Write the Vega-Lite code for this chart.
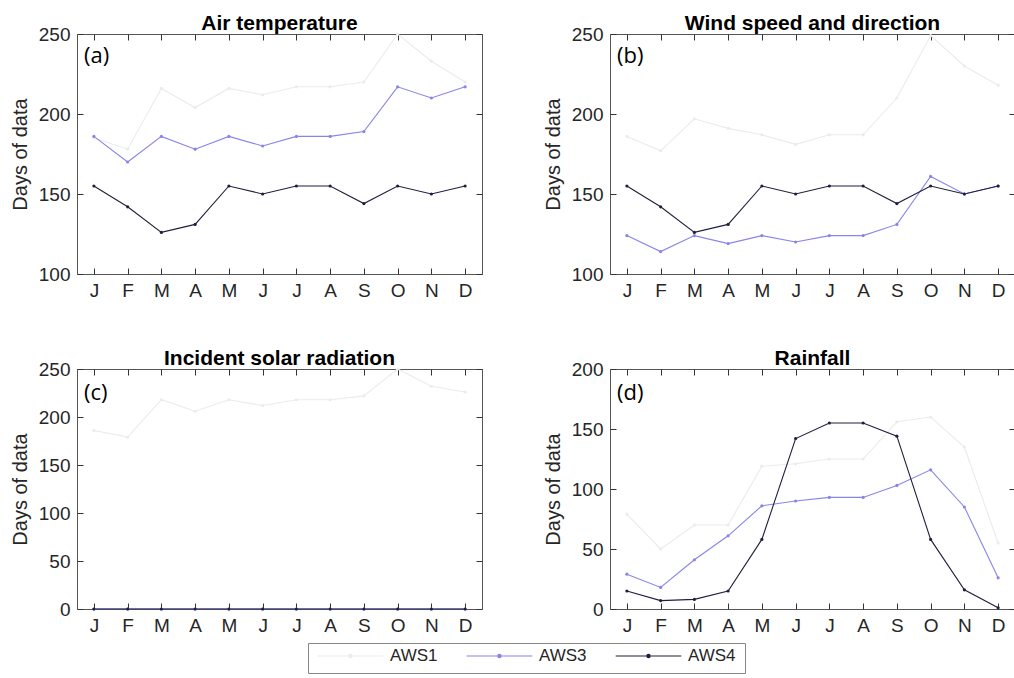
{
  "$schema": "https://vega.github.io/schema/vega-lite/v6.json",
  "padding": {"left": 9, "top": 12, "right": 0, "bottom": 0},
  "background": "white",
  "data": {"values": [
    {"panel":"a","series":"AWS1","month":1,"days":185},{"panel":"a","series":"AWS1","month":2,"days":178},{"panel":"a","series":"AWS1","month":3,"days":216},{"panel":"a","series":"AWS1","month":4,"days":204},{"panel":"a","series":"AWS1","month":5,"days":216},{"panel":"a","series":"AWS1","month":6,"days":212},{"panel":"a","series":"AWS1","month":7,"days":217},{"panel":"a","series":"AWS1","month":8,"days":217},{"panel":"a","series":"AWS1","month":9,"days":220},{"panel":"a","series":"AWS1","month":10,"days":250},{"panel":"a","series":"AWS1","month":11,"days":233},{"panel":"a","series":"AWS1","month":12,"days":220},
    {"panel":"a","series":"AWS3","month":1,"days":186},{"panel":"a","series":"AWS3","month":2,"days":170},{"panel":"a","series":"AWS3","month":3,"days":186},{"panel":"a","series":"AWS3","month":4,"days":178},{"panel":"a","series":"AWS3","month":5,"days":186},{"panel":"a","series":"AWS3","month":6,"days":180},{"panel":"a","series":"AWS3","month":7,"days":186},{"panel":"a","series":"AWS3","month":8,"days":186},{"panel":"a","series":"AWS3","month":9,"days":189},{"panel":"a","series":"AWS3","month":10,"days":217},{"panel":"a","series":"AWS3","month":11,"days":210},{"panel":"a","series":"AWS3","month":12,"days":217},
    {"panel":"a","series":"AWS4","month":1,"days":155},{"panel":"a","series":"AWS4","month":2,"days":142},{"panel":"a","series":"AWS4","month":3,"days":126},{"panel":"a","series":"AWS4","month":4,"days":131},{"panel":"a","series":"AWS4","month":5,"days":155},{"panel":"a","series":"AWS4","month":6,"days":150},{"panel":"a","series":"AWS4","month":7,"days":155},{"panel":"a","series":"AWS4","month":8,"days":155},{"panel":"a","series":"AWS4","month":9,"days":144},{"panel":"a","series":"AWS4","month":10,"days":155},{"panel":"a","series":"AWS4","month":11,"days":150},{"panel":"a","series":"AWS4","month":12,"days":155},
    {"panel":"b","series":"AWS1","month":1,"days":186},{"panel":"b","series":"AWS1","month":2,"days":177},{"panel":"b","series":"AWS1","month":3,"days":197},{"panel":"b","series":"AWS1","month":4,"days":191},{"panel":"b","series":"AWS1","month":5,"days":187},{"panel":"b","series":"AWS1","month":6,"days":181},{"panel":"b","series":"AWS1","month":7,"days":187},{"panel":"b","series":"AWS1","month":8,"days":187},{"panel":"b","series":"AWS1","month":9,"days":210},{"panel":"b","series":"AWS1","month":10,"days":249},{"panel":"b","series":"AWS1","month":11,"days":230},{"panel":"b","series":"AWS1","month":12,"days":218},
    {"panel":"b","series":"AWS3","month":1,"days":124},{"panel":"b","series":"AWS3","month":2,"days":114},{"panel":"b","series":"AWS3","month":3,"days":124},{"panel":"b","series":"AWS3","month":4,"days":119},{"panel":"b","series":"AWS3","month":5,"days":124},{"panel":"b","series":"AWS3","month":6,"days":120},{"panel":"b","series":"AWS3","month":7,"days":124},{"panel":"b","series":"AWS3","month":8,"days":124},{"panel":"b","series":"AWS3","month":9,"days":131},{"panel":"b","series":"AWS3","month":10,"days":161},{"panel":"b","series":"AWS3","month":11,"days":150},{"panel":"b","series":"AWS3","month":12,"days":155},
    {"panel":"b","series":"AWS4","month":1,"days":155},{"panel":"b","series":"AWS4","month":2,"days":142},{"panel":"b","series":"AWS4","month":3,"days":126},{"panel":"b","series":"AWS4","month":4,"days":131},{"panel":"b","series":"AWS4","month":5,"days":155},{"panel":"b","series":"AWS4","month":6,"days":150},{"panel":"b","series":"AWS4","month":7,"days":155},{"panel":"b","series":"AWS4","month":8,"days":155},{"panel":"b","series":"AWS4","month":9,"days":144},{"panel":"b","series":"AWS4","month":10,"days":155},{"panel":"b","series":"AWS4","month":11,"days":150},{"panel":"b","series":"AWS4","month":12,"days":155},
    {"panel":"c","series":"AWS1","month":1,"days":186},{"panel":"c","series":"AWS1","month":2,"days":179},{"panel":"c","series":"AWS1","month":3,"days":218},{"panel":"c","series":"AWS1","month":4,"days":206},{"panel":"c","series":"AWS1","month":5,"days":218},{"panel":"c","series":"AWS1","month":6,"days":212},{"panel":"c","series":"AWS1","month":7,"days":218},{"panel":"c","series":"AWS1","month":8,"days":218},{"panel":"c","series":"AWS1","month":9,"days":222},{"panel":"c","series":"AWS1","month":10,"days":250},{"panel":"c","series":"AWS1","month":11,"days":232},{"panel":"c","series":"AWS1","month":12,"days":226},
    {"panel":"c","series":"AWS3","month":1,"days":0},{"panel":"c","series":"AWS3","month":2,"days":0},{"panel":"c","series":"AWS3","month":3,"days":0},{"panel":"c","series":"AWS3","month":4,"days":0},{"panel":"c","series":"AWS3","month":5,"days":0},{"panel":"c","series":"AWS3","month":6,"days":0},{"panel":"c","series":"AWS3","month":7,"days":0},{"panel":"c","series":"AWS3","month":8,"days":0},{"panel":"c","series":"AWS3","month":9,"days":0},{"panel":"c","series":"AWS3","month":10,"days":0},{"panel":"c","series":"AWS3","month":11,"days":0},{"panel":"c","series":"AWS3","month":12,"days":0},
    {"panel":"c","series":"AWS4","month":1,"days":0},{"panel":"c","series":"AWS4","month":2,"days":0},{"panel":"c","series":"AWS4","month":3,"days":0},{"panel":"c","series":"AWS4","month":4,"days":0},{"panel":"c","series":"AWS4","month":5,"days":0},{"panel":"c","series":"AWS4","month":6,"days":0},{"panel":"c","series":"AWS4","month":7,"days":0},{"panel":"c","series":"AWS4","month":8,"days":0},{"panel":"c","series":"AWS4","month":9,"days":0},{"panel":"c","series":"AWS4","month":10,"days":0},{"panel":"c","series":"AWS4","month":11,"days":0},{"panel":"c","series":"AWS4","month":12,"days":0},
    {"panel":"d","series":"AWS1","month":1,"days":79},{"panel":"d","series":"AWS1","month":2,"days":50},{"panel":"d","series":"AWS1","month":3,"days":70},{"panel":"d","series":"AWS1","month":4,"days":70},{"panel":"d","series":"AWS1","month":5,"days":119},{"panel":"d","series":"AWS1","month":6,"days":121},{"panel":"d","series":"AWS1","month":7,"days":125},{"panel":"d","series":"AWS1","month":8,"days":125},{"panel":"d","series":"AWS1","month":9,"days":156},{"panel":"d","series":"AWS1","month":10,"days":160},{"panel":"d","series":"AWS1","month":11,"days":135},{"panel":"d","series":"AWS1","month":12,"days":55},
    {"panel":"d","series":"AWS3","month":1,"days":29},{"panel":"d","series":"AWS3","month":2,"days":18},{"panel":"d","series":"AWS3","month":3,"days":41},{"panel":"d","series":"AWS3","month":4,"days":61},{"panel":"d","series":"AWS3","month":5,"days":86},{"panel":"d","series":"AWS3","month":6,"days":90},{"panel":"d","series":"AWS3","month":7,"days":93},{"panel":"d","series":"AWS3","month":8,"days":93},{"panel":"d","series":"AWS3","month":9,"days":103},{"panel":"d","series":"AWS3","month":10,"days":116},{"panel":"d","series":"AWS3","month":11,"days":85},{"panel":"d","series":"AWS3","month":12,"days":26},
    {"panel":"d","series":"AWS4","month":1,"days":15},{"panel":"d","series":"AWS4","month":2,"days":7},{"panel":"d","series":"AWS4","month":3,"days":8},{"panel":"d","series":"AWS4","month":4,"days":15},{"panel":"d","series":"AWS4","month":5,"days":58},{"panel":"d","series":"AWS4","month":6,"days":142},{"panel":"d","series":"AWS4","month":7,"days":155},{"panel":"d","series":"AWS4","month":8,"days":155},{"panel":"d","series":"AWS4","month":9,"days":144},{"panel":"d","series":"AWS4","month":10,"days":58},{"panel":"d","series":"AWS4","month":11,"days":16},{"panel":"d","series":"AWS4","month":12,"days":1}
  ]},
  "columns": 2,
  "spacing": {"row": 46, "column": 59},
  "concat": [
    {
      "width": 405, "height": 240,
      "title": "Air temperature",
      "layer": [
        {"transform": [{"filter": "datum.panel === 'a'"}],
         "mark": {"type": "line", "strokeWidth": 1.1, "point": {"filled": true, "size": 10}},
         "encoding": {
           "x": {"field": "month", "type": "quantitative", "scale": {"domain": [0.5, 12.5], "nice": false}, "axis": {"values": [1,2,3,4,5,6,7,8,9,10,11,12], "labelExpr": "['J','F','M','A','M','J','J','A','S','O','N','D'][datum.value-1]", "title": null, "tickSize": -6}},
           "y": {"field": "days", "type": "quantitative", "scale": {"domain": [100, 250], "nice": false}, "axis": {"values": [100,150,200,250], "title": "Days of data", "tickSize": -6}},
           "color": {"field": "series", "type": "nominal", "scale": {"domain": ["AWS1","AWS3","AWS4"], "range": ["#ebebeb","#8884ea","#1f1f3f"]}, "legend": {"title": null}}
         }},
        {"transform": [{"filter": "datum.panel === 'a'"}],
         "mark": {"type": "point", "opacity": 0},
         "encoding": {
           "x": {"field": "month", "type": "quantitative", "axis": {"orient": "top", "values": [1,2,3,4,5,6,7,8,9,10,11,12], "labels": false, "title": null, "tickSize": -6, "labelPadding": 0, "minExtent": 0, "maxExtent": 0}},
           "y": {"field": "days", "type": "quantitative", "axis": {"orient": "right", "values": [100,150,200,250], "labels": false, "title": null, "tickSize": -6, "labelPadding": 0, "minExtent": 0, "maxExtent": 0}}
         }},
        {"transform": [{"filter": "datum.panel === 'a' && datum.series === 'AWS1' && datum.month === 1"}],
         "mark": {"type": "text", "align": "left", "baseline": "middle", "dx": 7, "font": "Open Sans", "fontSize": 22, "color": "#000"},
         "encoding": {
           "x": {"datum": 0.5, "type": "quantitative", "axis": null},
           "y": {"datum": 236, "type": "quantitative", "axis": null},
           "text": {"value": "(a)"}
         }}
      ],
      "resolve": {"axis": {"x": "independent", "y": "independent"}}
    },
    {
      "width": 405, "height": 240,
      "title": "Wind speed and direction",
      "layer": [
        {"transform": [{"filter": "datum.panel === 'b'"}],
         "mark": {"type": "line", "strokeWidth": 1.1, "point": {"filled": true, "size": 10}},
         "encoding": {
           "x": {"field": "month", "type": "quantitative", "scale": {"domain": [0.5, 12.5], "nice": false}, "axis": {"values": [1,2,3,4,5,6,7,8,9,10,11,12], "labelExpr": "['J','F','M','A','M','J','J','A','S','O','N','D'][datum.value-1]", "title": null, "tickSize": -6}},
           "y": {"field": "days", "type": "quantitative", "scale": {"domain": [100, 250], "nice": false}, "axis": {"values": [100,150,200,250], "title": "Days of data", "tickSize": -6}},
           "color": {"field": "series", "type": "nominal", "scale": {"domain": ["AWS1","AWS3","AWS4"], "range": ["#ebebeb","#8884ea","#1f1f3f"]}, "legend": {"title": null}}
         }},
        {"transform": [{"filter": "datum.panel === 'b'"}],
         "mark": {"type": "point", "opacity": 0},
         "encoding": {
           "x": {"field": "month", "type": "quantitative", "axis": {"orient": "top", "values": [1,2,3,4,5,6,7,8,9,10,11,12], "labels": false, "title": null, "tickSize": -6, "labelPadding": 0, "minExtent": 0, "maxExtent": 0}},
           "y": {"field": "days", "type": "quantitative", "axis": {"orient": "right", "values": [100,150,200,250], "labels": false, "title": null, "tickSize": -6, "labelPadding": 0, "minExtent": 0, "maxExtent": 0}}
         }},
        {"transform": [{"filter": "datum.panel === 'b' && datum.series === 'AWS1' && datum.month === 1"}],
         "mark": {"type": "text", "align": "left", "baseline": "middle", "dx": 7, "font": "Open Sans", "fontSize": 22, "color": "#000"},
         "encoding": {
           "x": {"datum": 0.5, "type": "quantitative", "axis": null},
           "y": {"datum": 236, "type": "quantitative", "axis": null},
           "text": {"value": "(b)"}
         }}
      ],
      "resolve": {"axis": {"x": "independent", "y": "independent"}}
    },
    {
      "width": 405, "height": 240,
      "title": "Incident solar radiation",
      "layer": [
        {"transform": [{"filter": "datum.panel === 'c'"}],
         "mark": {"type": "line", "strokeWidth": 1.1, "point": {"filled": true, "size": 10}},
         "encoding": {
           "x": {"field": "month", "type": "quantitative", "scale": {"domain": [0.5, 12.5], "nice": false}, "axis": {"values": [1,2,3,4,5,6,7,8,9,10,11,12], "labelExpr": "['J','F','M','A','M','J','J','A','S','O','N','D'][datum.value-1]", "title": null, "tickSize": -6}},
           "y": {"field": "days", "type": "quantitative", "scale": {"domain": [0, 250], "nice": false}, "axis": {"values": [0,50,100,150,200,250], "title": "Days of data", "tickSize": -6}},
           "color": {"field": "series", "type": "nominal", "scale": {"domain": ["AWS1","AWS3","AWS4"], "range": ["#ebebeb","#8884ea","#1f1f3f"]}, "legend": {"title": null}}
         }},
        {"transform": [{"filter": "datum.panel === 'c'"}],
         "mark": {"type": "point", "opacity": 0},
         "encoding": {
           "x": {"field": "month", "type": "quantitative", "axis": {"orient": "top", "values": [1,2,3,4,5,6,7,8,9,10,11,12], "labels": false, "title": null, "tickSize": -6, "labelPadding": 0, "minExtent": 0, "maxExtent": 0}},
           "y": {"field": "days", "type": "quantitative", "axis": {"orient": "right", "values": [0,50,100,150,200,250], "labels": false, "title": null, "tickSize": -6, "labelPadding": 0, "minExtent": 0, "maxExtent": 0}}
         }},
        {"transform": [{"filter": "datum.panel === 'c' && datum.series === 'AWS1' && datum.month === 1"}],
         "mark": {"type": "text", "align": "left", "baseline": "middle", "dx": 7, "font": "Open Sans", "fontSize": 22, "color": "#000"},
         "encoding": {
           "x": {"datum": 0.5, "type": "quantitative", "axis": null},
           "y": {"datum": 225, "type": "quantitative", "axis": null},
           "text": {"value": "(c)"}
         }}
      ],
      "resolve": {"axis": {"x": "independent", "y": "independent"}}
    },
    {
      "width": 405, "height": 240,
      "title": "Rainfall",
      "layer": [
        {"transform": [{"filter": "datum.panel === 'd'"}],
         "mark": {"type": "line", "strokeWidth": 1.1, "point": {"filled": true, "size": 10}},
         "encoding": {
           "x": {"field": "month", "type": "quantitative", "scale": {"domain": [0.5, 12.5], "nice": false}, "axis": {"values": [1,2,3,4,5,6,7,8,9,10,11,12], "labelExpr": "['J','F','M','A','M','J','J','A','S','O','N','D'][datum.value-1]", "title": null, "tickSize": -6}},
           "y": {"field": "days", "type": "quantitative", "scale": {"domain": [0, 200], "nice": false}, "axis": {"values": [0,50,100,150,200], "title": "Days of data", "tickSize": -6}},
           "color": {"field": "series", "type": "nominal", "scale": {"domain": ["AWS1","AWS3","AWS4"], "range": ["#ebebeb","#8884ea","#1f1f3f"]}, "legend": {"title": null}}
         }},
        {"transform": [{"filter": "datum.panel === 'd'"}],
         "mark": {"type": "point", "opacity": 0},
         "encoding": {
           "x": {"field": "month", "type": "quantitative", "axis": {"orient": "top", "values": [1,2,3,4,5,6,7,8,9,10,11,12], "labels": false, "title": null, "tickSize": -6, "labelPadding": 0, "minExtent": 0, "maxExtent": 0}},
           "y": {"field": "days", "type": "quantitative", "axis": {"orient": "right", "values": [0,50,100,150,200], "labels": false, "title": null, "tickSize": -6, "labelPadding": 0, "minExtent": 0, "maxExtent": 0}}
         }},
        {"transform": [{"filter": "datum.panel === 'd' && datum.series === 'AWS1' && datum.month === 1"}],
         "mark": {"type": "text", "align": "left", "baseline": "middle", "dx": 7, "font": "Open Sans", "fontSize": 22, "color": "#000"},
         "encoding": {
           "x": {"datum": 0.5, "type": "quantitative", "axis": null},
           "y": {"datum": 180, "type": "quantitative", "axis": null},
           "text": {"value": "(d)"}
         }}
      ],
      "resolve": {"axis": {"x": "independent", "y": "independent"}}
    }
  ],
  "config": {
    "view": {"stroke": "#555555", "strokeWidth": 1},
    "title": {"font": "Liberation Sans", "fontSize": 21, "fontWeight": "bold", "color": "#000000", "offset": -9, "anchor": "middle"},
    "axis": {"labelFont": "Liberation Sans", "labelFontSize": 19, "labelColor": "#262626", "titleFont": "Liberation Sans", "titleFontSize": 20, "titleFontWeight": "normal", "titleColor": "#262626", "grid": false, "domain": false, "ticks": true, "tickColor": "#333333", "tickWidth": 1, "labelPadding": 13, "titlePadding": 8},
    "legend": {
      "orient": "none", "legendX": 231, "legendY": 609, "direction": "horizontal",
      "strokeColor": "#888888", "padding": 9, "labelFont": "Liberation Sans", "labelFontSize": 17, "labelColor": "#262626",
      "symbolType": "M-1,0L1,0M-0.05,0A0.05,0.05,0,1,1,0.05,0A0.05,0.05,0,1,1,-0.05,0",
      "symbolSize": 4300, "symbolStrokeWidth": 1.1, "clipHeight": 8, "labelOffset": 6, "columnPadding": 28
    }
  }
}
